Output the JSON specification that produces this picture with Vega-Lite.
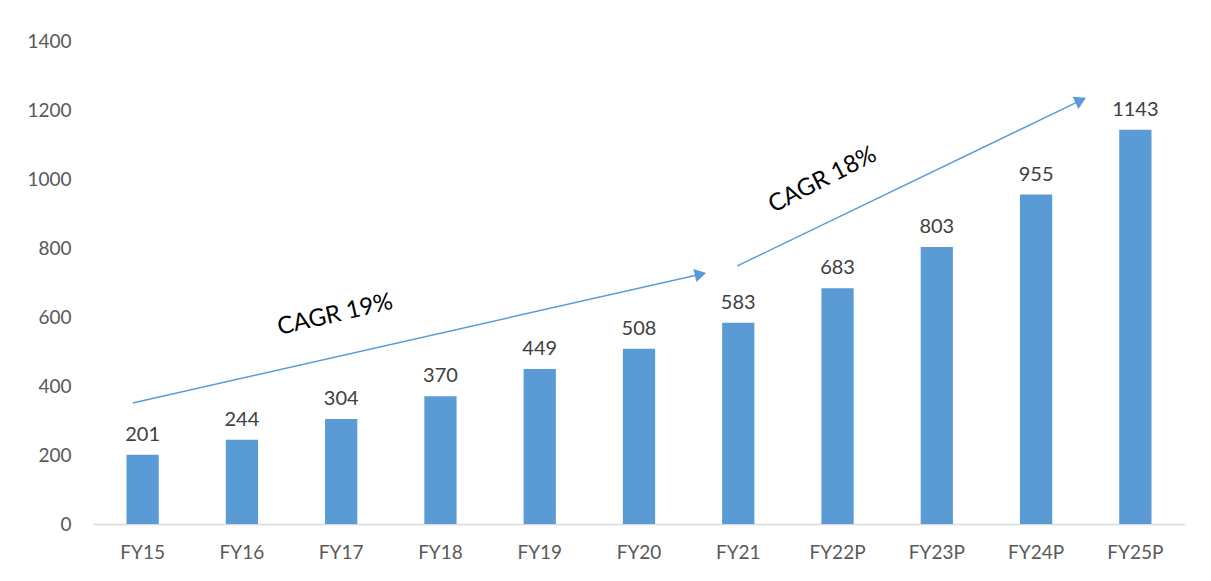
{
  "$schema": "https://vega.github.io/schema/vega-lite/v6.json",
  "width": 1092,
  "height": 483,
  "autosize": {"type": "none"},
  "padding": {"left": 93, "top": 41, "right": 26, "bottom": 57},
  "background": "white",
  "config": {"view": {"stroke": null}, "font": "Lato"},
  "datasets": {
    "bars": [
      {"year": "FY15", "value": 201},
      {"year": "FY16", "value": 244},
      {"year": "FY17", "value": 304},
      {"year": "FY18", "value": 370},
      {"year": "FY19", "value": 449},
      {"year": "FY20", "value": 508},
      {"year": "FY21", "value": 583},
      {"year": "FY22P", "value": 683},
      {"year": "FY23P", "value": 803},
      {"year": "FY24P", "value": 955},
      {"year": "FY25P", "value": 1143}
    ],
    "arrows": [
      {"arrow": "a1", "pos": -0.1, "v": 351, "end": false},
      {"arrow": "a1", "pos": 5.62, "v": 724, "end": true},
      {"arrow": "a2", "pos": 5.99, "v": 748, "end": false},
      {"arrow": "a2", "pos": 9.45, "v": 1228, "end": true}
    ],
    "heads": [
      {"arrow": "a1", "pos": 5.62, "v": 724, "angle": -12.7},
      {"arrow": "a2", "pos": 9.45, "v": 1228, "angle": -25.5}
    ],
    "notes": [
      {"label": "CAGR 19%", "pos": 1.94, "v": 606, "angle": -13},
      {"label": "CAGR 18%", "pos": 6.85, "v": 997, "angle": -27}
    ]
  },
  "layer": [
    {
      "data": {"name": "bars"},
      "encoding": {
        "x": {
          "field": "year", "type": "nominal", "sort": null,
          "scale": {"paddingInner": 0.675, "paddingOuter": 0.3375},
          "axis": {
            "title": null, "labelAngle": 0, "ticks": false,
            "domainColor": "#d9d9d9", "domainWidth": 1.5,
            "labelFontSize": 19, "labelColor": "#595959", "labelPadding": 19
          }
        },
        "y": {
          "field": "value", "type": "quantitative",
          "scale": {"domain": [0, 1400]},
          "axis": {
            "title": null, "values": [0, 200, 400, 600, 800, 1000, 1200, 1400],
            "format": "d",
            "grid": false, "domain": false, "ticks": false,
            "labelFontSize": 19, "labelColor": "#595959", "labelPadding": 22
          }
        }
      },
      "layer": [
        {"mark": {"type": "bar", "color": "#5b9bd5"}},
        {
          "mark": {"type": "text", "baseline": "bottom", "dy": -10, "fontSize": 20, "color": "#404040"},
          "encoding": {"text": {"field": "value", "type": "quantitative"}}
        }
      ]
    },
    {
      "encoding": {
        "x": {"field": "pos", "type": "quantitative", "scale": {"domain": [-0.5, 10.5]}, "axis": null},
        "y": {"field": "v", "type": "quantitative"}
      },
      "layer": [
        {
          "data": {"name": "arrows"},
          "mark": {"type": "line", "color": "#5b9bd5", "strokeWidth": 1.5},
          "encoding": {"detail": {"field": "arrow"}}
        },
        {
          "data": {"name": "heads"},
          "mark": {"type": "point", "shape": "triangle-right", "filled": true, "color": "#5b9bd5", "size": 180, "opacity": 1},
          "encoding": {"angle": {"field": "angle", "type": "quantitative", "scale": null}}
        },
        {
          "data": {"name": "notes"},
          "mark": {"type": "text", "fontSize": 24, "color": "#000000"},
          "encoding": {
            "text": {"field": "label"},
            "angle": {"field": "angle", "type": "quantitative", "scale": null}
          }
        }
      ]
    }
  ],
  "resolve": {"scale": {"x": "independent"}}
}
